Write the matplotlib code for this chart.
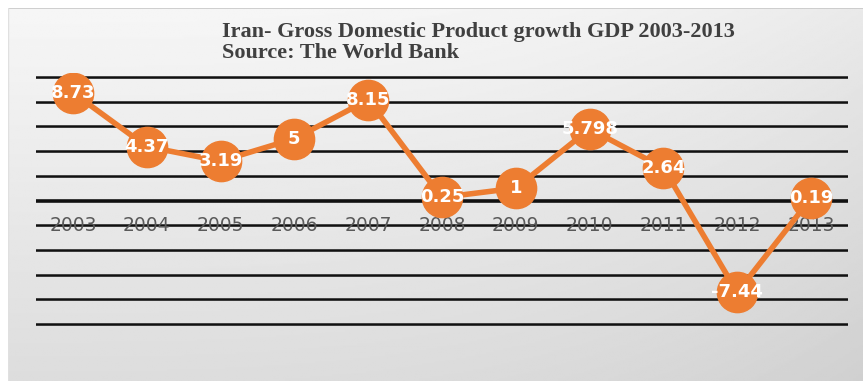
import numpy as np
from matplotlib import pyplot as plt

# Iran GDP growth (%), World Bank
years  = ["2003", "2004", "2005", "2006", "2007", "2008",
          "2009", "2010", "2011", "2012", "2013"]
growth = [8.73, 4.37, 3.19, 5, 8.15, 0.25, 1, 5.798, 2.64, -7.44, 0.19]
labels = ["8.73", "4.37", "3.19", "5", "8.15", "0.25",
          "1", "5.798", "2.64", "-7.44", "0.19"]

W, H = 865, 381
orange = "#ED7D31"

fig = plt.figure(figsize=(W/100, H/100), dpi=100)
fig.patch.set_facecolor("white")

# shaded chart area
bg = fig.add_axes([8/W, 0, (W-10)/W, (H-8)/H])
yy, xx = np.mgrid[0:1:200j, 0:1:400j]
shade = 0.965 - 0.10*yy - 0.05*xx**3
bg.imshow(shade, cmap="gray", vmin=0, vmax=1, aspect="auto",
          extent=[0, 1, 0, 1], origin="upper")
bg.set_xlim(0, 1)
bg.set_ylim(0, 1)
bg.axis("off")
bg.plot([0, 1], [1, 1], color="#c8c8c8", lw=1.2)
bg.plot([0, 0], [0, 1], color="#e0e0e0", lw=1.0)

fig.text(222/W, 1-32/H, "Iran- Gross Domestic Product growth GDP 2003-2013",
         family="Liberation Serif", weight="bold", size=16,
         color="#404040", va="center", ha="left")
fig.text(222/W, 1-53/H, "Source: The World Bank",
         family="Liberation Serif", weight="bold", size=16,
         color="#404040", va="center", ha="left")

# value axis runs -10..10, padded so the outer gridlines are not clipped
pad = 0.3
ppu = (324 - 77) / 20.0
ax = fig.add_axes([36/W, (H - 324 - pad*ppu)/H, (848-36)/W, (247 + 2*pad*ppu)/H])
ax.patch.set_alpha(0)
x = np.arange(len(years))
ax.set_xlim(-0.5, len(years)-0.5)
ax.set_ylim(-10 - pad, 10 + pad)
for s in ax.spines.values():
    s.set_visible(False)
ax.set_xticks([])
ax.set_yticks([])

# gridlines every 2 units, zero line a bit heavier
for g in range(-10, 11, 2):
    ax.axhline(g - 0.08, color="#9a9a9a", lw=1.2, alpha=0.6, zorder=1)
    ax.axhline(g, color="#111111", lw=2.6 if g == 0 else 1.8, zorder=2)

for xi, yr in zip(x, years):
    ax.text(xi, -2, yr, ha="center", va="center", family="DejaVu Sans",
            size=13.5, color="#595959", zorder=3)

ax.plot(x, growth, color=orange, lw=4, marker="o", ms=29,
        mfc=orange, mec=orange, zorder=4)
for xi, v, lab in zip(x, growth, labels):
    ax.text(xi, v, lab, ha="center", va="center", family="DejaVu Sans",
            weight="bold", size=13, color="white", zorder=5)

plt.savefig("out.png", dpi=100)
